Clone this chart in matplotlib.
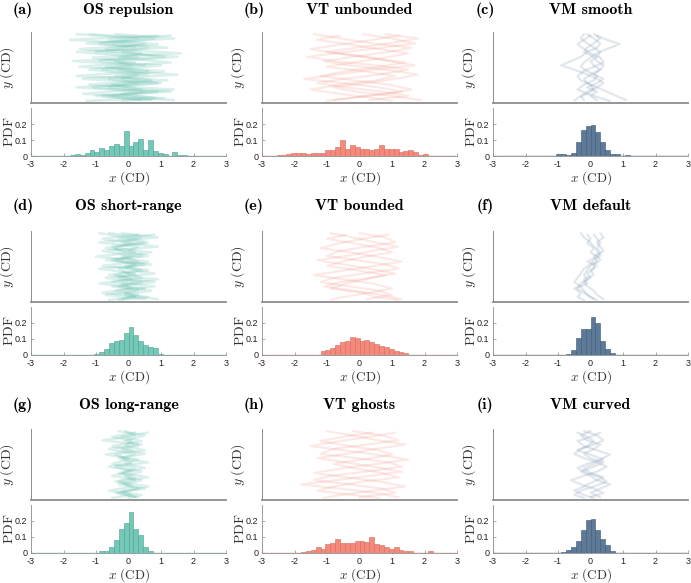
import matplotlib
matplotlib.use("Agg")
import matplotlib.pyplot as plt
import numpy as np

plt.rcParams["mathtext.fontset"] = "cm"
plt.rcParams["axes.unicode_minus"] = False
plt.rcParams["font.family"] = "Liberation Sans"

# --- histogram data: probability per bin, 40 bins of 0.15 on [-3, 3] ---
N_BINS = 40
X_MIN, X_MAX = -3, 3

def pad(first, vals):
    arr = np.zeros(N_BINS)
    arr[first:first + len(vals)] = vals
    return arr

pdf_a = pad(7, [0.003, 0.005, 0.015, 0.005, 0.02, 0.035, 0.025, 0.05, 0.04, 0.06, 0.075, 0.06,
                0.155, 0.06, 0.085, 0.105, 0.04, 0.10, 0.03, 0.02, 0.01, 0.003, 0.025, 0.005,
                0.004, 0.002, 0.0, 0.002])
pdf_b = pad(2, [0.003, 0.005, 0.008, 0.01, 0.018, 0.018, 0.018, 0.013, 0.017, 0.017, 0.02, 0.035,
                0.04, 0.055, 0.10, 0.045, 0.07, 0.055, 0.045, 0.045, 0.04, 0.045, 0.07, 0.045,
                0.045, 0.045, 0.025, 0.033, 0.04, 0.025, 0.005, 0.01])
pdf_c = pad(13, [0.015, 0.01, 0.005, 0.02, 0.09, 0.16, 0.185, 0.195, 0.15, 0.085, 0.035, 0.015,
                 0.01, 0.003, 0.008])
pdf_d = pad(11, [0.002, 0.002, 0.005, 0.02, 0.035, 0.075, 0.085, 0.095, 0.14, 0.175, 0.125, 0.09,
                 0.06, 0.05, 0.045, 0.008])
pdf_e = pad(10, [0.003, 0.0, 0.025, 0.03, 0.045, 0.06, 0.08, 0.085, 0.11, 0.105, 0.09, 0.095,
                 0.08, 0.07, 0.055, 0.05, 0.04, 0.025, 0.02, 0.01])
pdf_f = pad(15, [0.005, 0.03, 0.105, 0.165, 0.165, 0.235, 0.2, 0.085, 0.035, 0.012, 0.003])
pdf_g = pad(13, [0.003, 0.01, 0.015, 0.035, 0.08, 0.15, 0.19, 0.255, 0.15, 0.11, 0.035, 0.012, 0.003])
pdf_h = pad(7, [0.003, 0.008, 0.01, 0.018, 0.035, 0.025, 0.055, 0.06, 0.085, 0.065, 0.065, 0.06,
                0.075, 0.075, 0.07, 0.10, 0.055, 0.05, 0.04, 0.025, 0.035, 0.02, 0.015, 0.015,
                0.0, 0.003, 0.0, 0.01])
pdf_i = pad(14, [0.005, 0.02, 0.04, 0.075, 0.145, 0.205, 0.21, 0.145, 0.085, 0.05, 0.015])

# --- trajectory data (lateral position x at successive heights y) ---
y_a = [9.7, 9.1, 8.4, 7.8, 7.2, 6.5, 5.9, 5.3, 4.7, 4.0, 3.4, 2.8, 2.2, 1.6, 1.0, 0.4]
y_b = [9.5, 8.9, 8.3, 7.6, 7.0, 6.4, 5.7, 5.1, 4.5, 3.8, 3.2, 2.6, 1.9, 1.3, 0.7, 0.3]

traj_a = [
    [-1.2, 0.8, -0.5, 1.2, -1.6, 0.3, -0.9, 1.0, -0.3, 0.6, -1.4, 0.9, -0.6, 1.3, -1.0, 0.4],
    [0.9, -1.8, 0.5, -0.7, 1.6, -1.1, 0.2, -1.5, 1.1, -0.4, 0.7, -1.2, 1.4, -0.2, 0.8, -1.3],
    [-0.4, 1.4, -1.3, 0.6, -0.2, 1.1, -1.7, 0.5, -0.8, 1.5, -0.6, 0.3, -1.1, 0.9, -0.5, 1.4],
    [1.3, -0.6, 0.9, -1.5, 0.4, -0.3, 1.3, -0.7, 0.6, -1.6, 1.2, -0.5, 0.4, -1.4, 1.1, -0.2],
    [-1.6, 0.3, -0.9, 0.2, -1.0, 1.5, -0.4, 0.1, -1.2, 0.3, -0.2, 1.0, -1.6, 0.5, -0.8, 0.7],
]
traj_b = [
    [-1.4, -0.6, 0.4, 1.6, 0.9, -0.2, -1.1, -0.3, 0.8, 1.8, 1.1, 0.2, -0.8, -0.1, 1.0, 1.9],
    [1.2, 0.4, -0.5, -1.5, -0.7, 0.3, 1.4, 0.6, -0.4, -1.2, -0.2, 0.9, 1.6, 0.8, -0.3, -1.0],
    [0.1, 1.0, 1.7, 0.7, -0.4, -1.6, -0.8, 0.5, 1.5, 0.6, -0.5, -1.3, -0.4, 0.7, 1.5, 0.3],
    [-0.6, -1.3, -0.4, 0.6, 1.5, 0.8, -0.2, -1.0, 0.1, 1.1, 0.5, -0.6, -1.5, -0.6, 0.4, 1.0],
    [0.8, 1.8, 0.9, -0.1, -1.0, 0.2, 0.9, 1.7, 0.4, -0.7, -1.7, -0.5, 0.6, 1.3, 0.2, -0.8],
]
traj_c = [
    [-0.1, 0.1, 0.3, 0.2, -0.1, -0.3, -0.6, -0.9, -0.5, -0.1, 0.2, 0.4, 0.2, -0.1, -0.3, -0.2],
    [0.2, 0.5, 0.9, 0.5, 0.2, 0.0, -0.2, -0.3, -0.1, 0.2, 0.1, -0.2, -0.4, -0.1, 0.3, 0.6],
    [-0.2, -0.3, -0.1, 0.1, 0.3, 0.2, 0.0, 0.1, 0.3, 0.0, -0.2, -0.1, 0.2, 0.5, 0.8, 1.1],
    [0.0, -0.2, -0.4, -0.2, 0.0, 0.3, 0.4, 0.1, -0.2, -0.4, -0.3, 0.0, 0.1, -0.1, -0.4, -0.5],
    [0.1, 0.3, 0.1, -0.1, -0.2, 0.1, 0.2, 0.4, 0.3, 0.1, 0.4, 0.2, -0.1, 0.2, 0.0, 0.2],
]
traj_d = [
    [-0.6, 0.4, -0.2, 0.9, -0.8, 0.1, -0.4, 0.7, -0.9, 0.2, -0.3, 0.8, -0.5, 0.3, -0.7, 0.5],
    [0.8, -0.3, 0.5, -0.7, 0.2, -1.0, 0.6, -0.1, 0.4, -0.6, 0.9, -0.2, 0.1, -0.8, 0.6, -0.3],
    [-0.2, 0.9, -0.9, 0.3, 0.0, 0.6, -0.5, 0.2, -0.1, 0.8, -0.7, 0.4, -0.3, 0.7, -0.1, 0.9],
    [0.3, -0.8, 0.1, -0.4, 0.7, -0.2, 0.3, -0.8, 0.6, -0.4, 0.1, -0.9, 0.5, -0.1, 0.2, -0.6],
    [-0.9, -0.1, 0.6, -0.5, -0.3, 0.4, -0.7, 0.5, -0.3, 0.0, 0.4, -0.5, 0.8, -0.4, 0.3, -0.2],
]
traj_e = [
    [-0.9, -0.2, 0.5, 1.2, 0.4, -0.4, -1.3, -0.5, 0.3, 1.1, 0.3, -0.6, -1.1, -0.2, 0.7, 1.3],
    [0.9, 0.1, -0.6, -1.2, -0.3, 0.5, 1.3, 0.5, -0.4, -1.4, -0.5, 0.4, 1.0, 0.3, -0.5, -0.9],
    [0.0, 0.8, 1.1, 0.2, -0.6, -1.0, -0.1, 0.8, 1.2, 0.1, -0.8, -1.2, -0.3, 0.6, 1.0, 0.2],
    [-0.4, -1.0, -0.2, 0.6, 1.0, 0.2, -0.5, -1.0, -0.1, 0.8, 0.2, -0.4, -0.9, 0.1, 0.5, 1.2],
]
traj_f = [
    [-0.3, -0.2, 0.0, 0.1, 0.2, 0.3, 0.1, 0.0, -0.2, -0.3, -0.4, -0.5, -0.3, -0.2, -0.1, 0.1],
    [0.1, 0.2, 0.3, 0.2, 0.3, 0.1, 0.2, 0.0, -0.1, -0.2, -0.1, -0.3, -0.4, -0.2, 0.0, 0.2],
    [0.3, 0.4, 0.2, 0.3, 0.4, 0.2, 0.3, 0.1, 0.1, -0.1, 0.0, -0.2, -0.1, 0.1, 0.2, 0.4],
    [-0.1, 0.0, -0.1, 0.1, 0.0, 0.2, -0.1, 0.2, 0.0, 0.1, -0.2, -0.1, -0.5, -0.3, -0.4, -0.2],
]
traj_g = [
    [-0.3, 0.5, -0.1, 0.3, -0.6, 0.2, -0.2, 0.6, -0.4, 0.1, -0.5, 0.4, -0.1, 0.3, -0.3, 0.2],
    [0.6, -0.2, 0.4, -0.5, 0.1, -0.7, 0.3, -0.1, 0.5, -0.3, 0.2, -0.4, 0.6, -0.2, 0.1, -0.5],
    [-0.1, 0.2, -0.8, 0.4, -0.2, 0.5, -0.3, 0.1, -0.6, 0.4, -0.1, 0.2, -0.3, 0.5, -0.4, 0.3],
    [0.2, -0.5, 0.1, -0.1, 0.5, -0.4, 0.0, -0.5, 0.2, -0.2, 0.6, -0.3, 0.1, -0.6, 0.4, 0.0],
]
traj_h = [
    [-1.0, -0.2, 0.6, 1.4, 0.5, -0.4, -1.3, -0.4, 0.4, 1.3, 0.3, -0.7, -1.8, -0.6, 0.5, 1.2],
    [1.1, 0.3, -0.6, -1.5, -0.5, 0.5, 1.5, 0.6, -0.5, -1.4, -0.4, 0.6, 1.4, 0.4, -0.6, -1.1],
    [-0.2, 0.7, 1.2, 0.2, -0.8, -1.2, -0.1, 0.9, 1.3, 0.2, -0.9, -1.4, -0.3, 0.7, 1.1, 0.0],
    [0.4, -0.5, -1.2, -0.3, 0.6, 1.0, 0.1, -0.8, -0.2, 0.7, 1.2, 0.1, -0.8, -1.3, -0.2, 0.6],
]
traj_i = [
    [-0.2, 0.2, 0.4, 0.1, -0.3, -0.5, -0.2, 0.2, 0.5, 0.2, -0.2, -0.6, -0.3, 0.1, 0.4, 0.0],
    [0.3, 0.0, -0.4, -0.2, 0.2, 0.6, 0.3, -0.1, -0.4, -0.1, 0.3, 0.5, 0.1, -0.3, -0.5, -0.2],
    [0.0, -0.3, -0.1, 0.3, 0.1, -0.2, 0.0, 0.4, 0.1, -0.3, 0.0, 0.2, 0.6, 0.3, 0.0, 0.3],
    [-0.4, -0.1, 0.1, -0.1, -0.4, 0.0, 0.4, 0.1, -0.2, 0.0, 0.4, 0.1, -0.2, -0.5, -0.2, 0.1],
]

letters = ["(a)", "(b)", "(c)", "(d)", "(e)", "(f)", "(g)", "(h)", "(i)"]
titles = ["OS repulsion", "VT unbounded", "VM smooth",
          "OS short-range", "VT bounded", "VM default",
          "OS long-range", "VT ghosts", "VM curved"]
pdfs = [pdf_a, pdf_b, pdf_c, pdf_d, pdf_e, pdf_f, pdf_g, pdf_h, pdf_i]
trajs = [traj_a, traj_b, traj_c, traj_d, traj_e, traj_f, traj_g, traj_h, traj_i]

# farben je modell (spalte)
bar_col = ["#74c8b8", "#f48a7c", "#5d7b98"]
edge_col = ["#4f9f91", "#d8695b", "#3e5773"]
line_col = ["#5cbcaa", "#f4978a", "#8ea4ba"]
line_alpha = [0.22, 0.22, 0.26]
line_w = [1.8, 1.5, 1.6]

W, H = 691, 583
col_left = [31, 262, 493]
ax_w = 195
top_y = [32, 231, 429]
top_h = 71
hist_y = [108, 307, 505]
hist_h = 48
title_y = [10, 206, 405]

edges = np.linspace(X_MIN, X_MAX, N_BINS + 1)
centers = 0.5 * (edges[:-1] + edges[1:])
bw = edges[1] - edges[0]

fig = plt.figure(figsize=(W / 100, H / 100), dpi=100)

for i in range(9):
    r, c = divmod(i, 3)
    x0 = col_left[c] / W

    # trajektorien
    ax_t = fig.add_axes([x0, 1 - (top_y[r] + top_h) / H, ax_w / W, top_h / H])
    for k, xs in enumerate(trajs[i]):
        ys = y_a if k % 2 == 0 else y_b
        ax_t.plot(xs, ys, color=line_col[c], alpha=line_alpha[c], lw=line_w[c],
                  solid_joinstyle="round", solid_capstyle="round")
    ax_t.set_xlim(X_MIN, X_MAX)
    ax_t.set_ylim(0, 10)
    ax_t.set_xticks([])
    ax_t.set_yticks([])
    for s in ["top", "right"]:
        ax_t.spines[s].set_visible(False)
    ax_t.spines["left"].set_color("#8c8c8c")
    ax_t.spines["left"].set_linewidth(0.7)
    ax_t.spines["bottom"].set_color("#8c8c8c")
    ax_t.spines["bottom"].set_linewidth(1.3)
    ax_t.set_ylabel(r"$y\ \mathrm{(CD)}$", fontsize=10, color="#333333")
    ax_t.yaxis.set_label_coords(-0.075, 0.5)

    # histogramm
    ax_h = fig.add_axes([x0, 1 - (hist_y[r] + hist_h) / H, ax_w / W, hist_h / H])
    ax_h.bar(centers, pdfs[i], width=bw, color=bar_col[c], edgecolor=edge_col[c],
             linewidth=0.4, zorder=3)
    ax_h.plot([X_MIN, X_MAX], [0, 0], color=bar_col[c], lw=1.0, zorder=4)
    ax_h.set_xlim(X_MIN, X_MAX)
    ax_h.set_ylim(0, 0.3)
    ax_h.set_xticks([-3, -2, -1, 0, 1, 2, 3])
    ax_h.set_xticklabels(["-3", "-2", "-1", "0", "1", "2", "3"])
    ax_h.set_yticks([0, 0.1, 0.2])
    ax_h.set_yticklabels(["0", "0.1", "0.2"])
    ax_h.tick_params(direction="in", length=2, width=0.5, color="#8c8c8c",
                     labelsize=6.5, labelcolor="#222222")
    ax_h.tick_params(axis="x", pad=3)
    ax_h.tick_params(axis="y", pad=2.5)
    for s in ["top", "right"]:
        ax_h.spines[s].set_visible(False)
    for s in ["left", "bottom"]:
        ax_h.spines[s].set_color("#8c8c8c")
        ax_h.spines[s].set_linewidth(0.6)
    ax_h.set_ylabel(r"$\mathrm{PDF}$", fontsize=10, color="#333333")
    ax_h.yaxis.set_label_coords(-0.075, 0.5)
    ax_h.set_xlabel(r"$x\ \mathrm{(CD)}$", fontsize=9.5, color="#333333")
    ax_h.xaxis.set_label_coords(0.5, -0.28)

    # titel
    xc = (col_left[c] + ax_w / 2) / W
    fig.text(xc, 1 - title_y[r] / H, titles[i], family="cmb10", fontsize=11.5,
             ha="center", va="center")
    fig.text((col_left[c] - 8) / W, 1 - title_y[r] / H, letters[i], family="cmb10",
             fontsize=11.5, ha="center", va="center")

plt.savefig("out.png", dpi=100)
